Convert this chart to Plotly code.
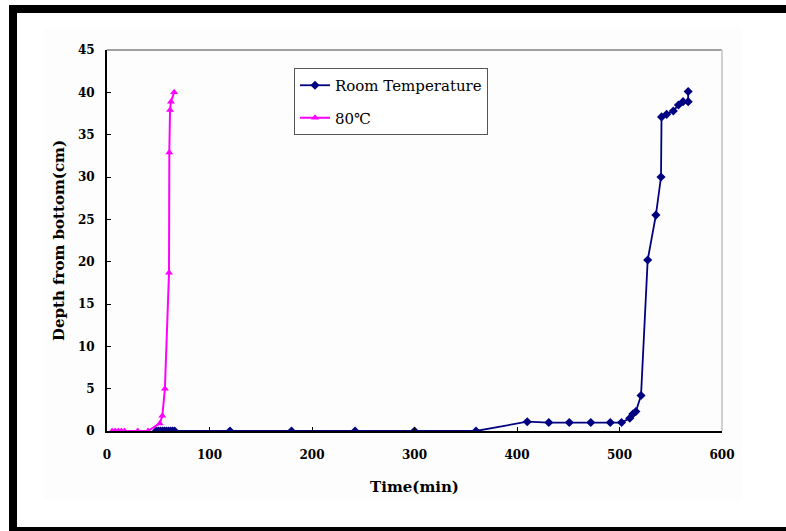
import plotly.graph_objects as go

# Room temperature series: time (min) and depth from bottom (cm)
room_time = [48, 50, 52, 54, 56, 58, 60, 62, 64, 66, 120, 180, 242, 300, 360,
             410, 431, 451, 472, 491, 502, 510, 513, 516, 521, 527.5, 535.5,
             540.5, 541, 546, 552.5, 557.5, 562, 567, 567]
room_depth = [0, 0, 0, 0, 0, 0, 0, 0, 0, 0, 0, 0, 0, 0, 0,
              1.1, 1.0, 1.0, 1.0, 1.0, 1.0, 1.5, 2.0, 2.3, 4.2, 20.2, 25.5,
              30.0, 37.1, 37.4, 37.8, 38.5, 38.9, 38.9, 40.1]

# 80°C series
hot_time = [5, 8, 11, 14, 17, 30, 40, 51.5, 54, 56.5, 60.5, 60.8, 61.5, 62.4, 65.5]
hot_depth = [0, 0, 0, 0, 0, 0, 0, 0.9, 1.8, 5.0, 18.7, 32.9, 37.9, 38.9, 40.0]

W, H = 786, 531
L, R, T, B = 107, 722, 50, 431  # plot area edges in pixels


def px(x):
    return (x - L) / (R - L)


def py(y):
    return (B - y) / (B - T)


serif = "DejaVu Serif, Liberation Serif, serif"

fig = go.Figure()

fig.add_trace(go.Scatter(
    x=room_time, y=room_depth, mode="lines+markers", name="Room Temperature",
    legendgroup="a",
    line=dict(color="#000080", width=1.8),
    marker=dict(symbol="diamond", size=7, color="#000080"),
))
fig.add_trace(go.Scatter(
    x=hot_time, y=hot_depth, mode="lines+markers", name="80℃",
    legendgroup="b",
    line=dict(color="#ff00ff", width=2),
    marker=dict(symbol="triangle-up", size=7, color="#ff00ff"),
))

shapes = []
# faint chart-area backdrop
shapes.append(dict(type="rect", xref="paper", yref="paper", layer="below",
                   x0=px(44), x1=px(742), y0=py(500), y1=py(28),
                   fillcolor="#fdfdfd", line=dict(width=0)))
# light grey top and right edges of the plot area
shapes.append(dict(type="line", xref="paper", yref="paper",
                   x0=0, x1=1, y0=1, y1=1, line=dict(color="#a0a0a0", width=2)))
shapes.append(dict(type="line", xref="paper", yref="paper",
                   x0=1, x1=1, y0=0, y1=1, line=dict(color="#d0d0d0", width=2)))
# heavy black outer frame
for x0, x1, y0, y1 in [(9, 17, 5, 531), (9, 800, 5, 13), (9, 800, 527, 540)]:
    shapes.append(dict(type="rect", xref="paper", yref="paper",
                       x0=px(x0), x1=px(x1), y0=py(y1), y1=py(y0),
                       fillcolor="black", line=dict(width=0)))

fig.update_layout(
    width=W, height=H,
    margin=dict(l=L, r=W - R, t=T, b=H - B),
    paper_bgcolor="white", plot_bgcolor="white",
    shapes=shapes,
    showlegend=True,
    legend=dict(x=px(294), y=py(68), xanchor="left", yanchor="top",
                bgcolor="white", bordercolor="#555555", borderwidth=1,
                font=dict(family=serif, size=15, color="black"),
                tracegroupgap=10, itemwidth=30),
    xaxis=dict(range=[0, 600], tickvals=[0, 100, 200, 300, 400, 500, 600],
               showline=True, linecolor="black", linewidth=2,
               ticks="inside", ticklen=4, tickcolor="black",
               showgrid=False, zeroline=False, ticklabelstandoff=12,
               tickfont=dict(family=serif, size=12, color="black", weight="bold"),
               title=dict(text="Time(min)", standoff=20,
                          font=dict(family=serif, size=15, color="black", weight="bold"))),
    yaxis=dict(range=[0, 45], tickvals=list(range(0, 46, 5)),
               showline=True, linecolor="black", linewidth=2,
               ticks="inside", ticklen=4, tickcolor="black",
               showgrid=False, zeroline=False, ticklabelstandoff=8,
               tickfont=dict(family=serif, size=12, color="black", weight="bold"),
               title=dict(text="Depth from bottom(cm)", standoff=10,
                          font=dict(family=serif, size=15, color="black", weight="bold"))),
)

fig.write_html("out.html")
